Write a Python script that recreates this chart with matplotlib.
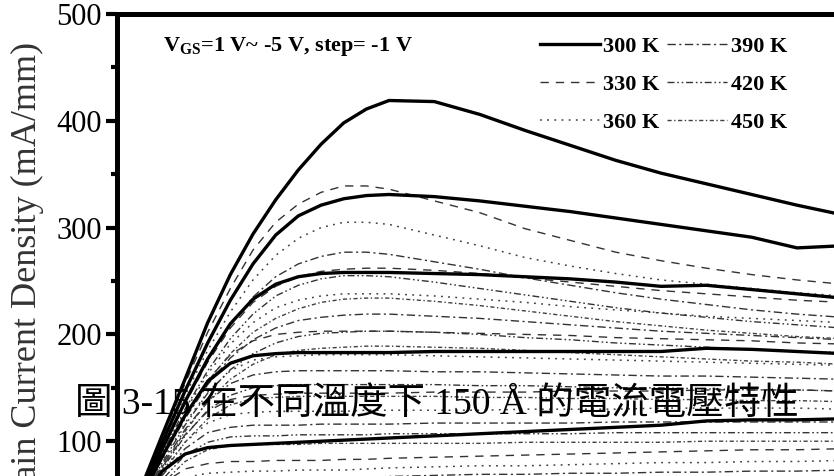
import matplotlib.pyplot as plt

plt.rcParams['font.family'] = ['Liberation Serif']
plt.rcParams['mathtext.fontset'] = 'custom'
plt.rcParams['mathtext.rm'] = 'Liberation Serif:bold'
plt.rcParams['mathtext.it'] = 'Liberation Serif:bold'
plt.rcParams['mathtext.bf'] = 'Liberation Serif:bold'

# drain voltage sweep (V)
vds = [0, 0.5, 1, 1.5, 2, 2.5, 3, 3.5, 4, 4.5, 5, 5.5, 6,
       7, 8, 9, 10, 11, 12, 13, 14, 15, 16]
vgs_steps = [1, 0, -1, -2, -3, -4, -5]
temps = ['300 K', '330 K', '360 K', '390 K', '420 K', '450 K']

# drain current density (mA/mm), one row per VGS step
j_300 = [
    [0, 53, 106, 158, 211, 256, 294, 326, 354, 378, 398, 411, 419, 418, 406, 391, 377, 363, 351, 341, 331, 321, 312],
    [0, 50, 99, 147, 192, 232, 266, 293, 311, 321, 327, 330, 331, 329, 325, 320, 315, 309, 303, 297, 291, 281, 283],
    [0, 47, 93, 137, 177, 210, 233, 247, 254, 257, 258, 258, 258, 257, 256, 254, 252, 249, 245, 246, 242, 238, 234],
    [0, 44, 86, 124, 156, 173, 180, 182, 183, 183, 183, 183, 183, 184, 184, 184, 184, 184, 184, 187, 186, 184, 182],
    [0, 40, 72, 88, 94, 96, 97, 98, 99, 100, 101, 102, 103, 105, 107, 109, 111, 113, 115, 119, 120, 120, 121],
    [0, 24, 33, 36, 38, 38, 39, 39, 39, 40, 40, 40, 40, 41, 41, 42, 42, 43, 43, 44, 44, 45, 45],
    [0, 3, 4, 4, 5, 5, 5, 5, 5, 5, 5, 5, 5, 5, 5, 6, 6, 6, 6, 6, 6, 6, 6],
]
j_330 = [
    [0, 52, 104, 154, 202, 243, 279, 305, 322, 333, 339, 339, 336, 325, 314, 299, 288, 277, 269, 262, 256, 251, 247],
    [0, 47, 92, 135, 174, 206, 230, 245, 254, 259, 261, 262, 262, 260, 257, 253, 249, 245, 241, 238, 235, 232, 230],
    [0, 44, 86, 124, 157, 181, 194, 200, 202, 203, 203, 203, 203, 202, 201, 200, 199, 197, 196, 195, 194, 192, 191],
    [0, 40, 76, 106, 128, 139, 143, 144, 145, 145, 145, 145, 145, 146, 146, 146, 147, 147, 147, 148, 148, 148, 147],
    [0, 35, 60, 74, 79, 81, 81, 82, 82, 82, 83, 83, 84, 85, 86, 87, 88, 89, 90, 91, 92, 92, 93],
    [0, 20, 28, 31, 33, 33, 34, 34, 34, 34, 34, 35, 35, 35, 35, 36, 36, 36, 36, 37, 37, 37, 37],
    [0, 3, 3, 4, 4, 4, 4, 4, 4, 4, 4, 4, 4, 4, 5, 5, 5, 5, 5, 5, 5, 5, 5],
]
j_360 = [
    [0, 49, 97, 143, 185, 221, 251, 274, 290, 300, 305, 305, 303, 293, 283, 272, 264, 257, 251, 247, 243, 239, 236],
    [0, 45, 88, 128, 163, 191, 211, 225, 232, 236, 238, 238, 238, 236, 233, 230, 226, 223, 220, 217, 215, 213, 211],
    [0, 42, 82, 117, 146, 166, 176, 179, 180, 181, 181, 181, 181, 180, 179, 178, 177, 176, 175, 174, 173, 172, 171],
    [0, 38, 72, 99, 117, 125, 127, 128, 128, 128, 128, 129, 129, 129, 129, 130, 130, 130, 131, 131, 131, 131, 130],
    [0, 33, 55, 66, 70, 71, 72, 72, 73, 73, 73, 74, 75, 76, 77, 77, 78, 79, 80, 80, 81, 81, 82],
    [0, 18, 25, 28, 29, 29, 30, 30, 30, 30, 30, 30, 31, 31, 31, 31, 32, 32, 32, 32, 32, 33, 33],
    [0, 2, 3, 3, 3, 3, 4, 4, 4, 4, 4, 4, 4, 4, 4, 4, 4, 4, 4, 4, 4, 4, 4],
]
j_390 = [
    [0, 47, 93, 137, 176, 209, 235, 254, 266, 273, 277, 277, 275, 268, 261, 253, 246, 239, 233, 228, 223, 219, 216],
    [0, 43, 84, 121, 153, 178, 195, 206, 213, 216, 218, 219, 219, 217, 215, 212, 209, 206, 203, 201, 199, 197, 195],
    [0, 40, 78, 111, 137, 154, 162, 165, 166, 166, 166, 166, 166, 165, 165, 164, 163, 162, 161, 161, 160, 159, 158],
    [0, 36, 68, 93, 108, 113, 115, 115, 115, 116, 116, 116, 116, 117, 117, 117, 117, 118, 118, 118, 118, 118, 118],
    [0, 31, 51, 60, 63, 64, 65, 65, 65, 66, 66, 66, 67, 68, 69, 69, 70, 70, 71, 71, 72, 72, 73],
    [0, 16, 22, 25, 26, 26, 26, 26, 27, 27, 27, 27, 27, 27, 28, 28, 28, 28, 28, 29, 29, 29, 29],
    [0, 2, 3, 3, 3, 3, 3, 3, 3, 3, 3, 3, 3, 3, 3, 3, 4, 4, 4, 4, 4, 4, 4],
]
j_420 = [
    [0, 45, 89, 130, 166, 196, 219, 236, 246, 252, 255, 255, 254, 249, 243, 237, 231, 225, 220, 216, 212, 209, 206],
    [0, 41, 80, 115, 145, 167, 182, 192, 198, 201, 202, 203, 203, 202, 200, 197, 195, 192, 190, 188, 186, 184, 183],
    [0, 38, 74, 105, 129, 143, 150, 152, 153, 153, 153, 153, 153, 153, 152, 152, 151, 150, 150, 149, 148, 148, 147],
    [0, 34, 64, 87, 99, 104, 105, 105, 106, 106, 106, 106, 107, 107, 107, 107, 107, 108, 108, 108, 108, 108, 108],
    [0, 29, 47, 55, 58, 58, 59, 59, 59, 60, 60, 60, 61, 62, 62, 62, 63, 63, 64, 64, 65, 65, 65],
    [0, 14, 19, 22, 22, 23, 23, 23, 23, 24, 24, 24, 24, 24, 25, 25, 25, 25, 25, 25, 25, 26, 26],
    [0, 2, 2, 3, 3, 3, 3, 3, 3, 3, 3, 3, 3, 3, 3, 3, 3, 3, 3, 3, 3, 3, 3],
]
j_450 = [
    [0, 43, 85, 123, 156, 182, 202, 215, 224, 230, 233, 234, 234, 231, 227, 222, 217, 212, 208, 204, 201, 198, 196],
    [0, 39, 76, 109, 137, 158, 172, 181, 185, 187, 188, 189, 189, 188, 187, 185, 183, 181, 179, 177, 175, 174, 172],
    [0, 36, 70, 99, 121, 134, 140, 141, 142, 142, 142, 142, 142, 142, 141, 141, 140, 140, 139, 139, 138, 138, 137],
    [0, 32, 60, 81, 92, 96, 97, 97, 97, 98, 98, 98, 98, 98, 98, 99, 99, 99, 99, 100, 100, 100, 100],
    [0, 27, 43, 50, 52, 53, 54, 54, 54, 55, 55, 55, 56, 56, 57, 57, 58, 58, 58, 59, 59, 59, 59],
    [0, 13, 18, 19, 20, 20, 21, 21, 21, 21, 21, 21, 22, 22, 22, 22, 22, 22, 22, 23, 23, 23, 23],
    [0, 2, 2, 2, 2, 2, 2, 2, 2, 2, 3, 3, 3, 3, 3, 3, 3, 3, 3, 3, 3, 3, 3],
]

families = [j_300, j_330, j_360, j_390, j_420, j_450]
styles = [
    ('-', 2.4, 'black'),
    ((0, (6, 5)), 1.0, '0.2'),
    ((0, (1.2, 3.5)), 1.1, '0.25'),
    ((0, (6, 2.5, 1.5, 2.5)), 1.0, '0.2'),
    ((0, (5, 2, 1.2, 2, 1.2, 2)), 1.0, '0.2'),
    ((0, (3, 1.8, 1, 1.8)), 1.0, '0.25'),
]

fig = plt.figure(figsize=(8.34, 4.76), dpi=100)
ax = fig.add_axes([0.1403, -0.1513, 0.8697, 1.1219])

for temp, curves, (ls, lw, col) in zip(temps, families, styles):
    for k, jd in enumerate(curves):
        ax.plot(vds, jd, linestyle=ls, lw=lw, color=col,
                label=temp if k == 0 else None,
                zorder=3 if temp == '300 K' else 2)

ax.set_xlim(0, 16)
ax.set_ylim(0, 500)
ax.set_yticks([100, 200, 300, 400, 500])
ax.set_yticks([50, 150, 250, 350, 450], minor=True)
ax.tick_params(axis='y', which='major', direction='out', length=8, width=3,
               labelsize=22, pad=3)
ax.tick_params(axis='y', which='minor', direction='out', length=4, width=3)
ax.tick_params(axis='x', bottom=False, labelbottom=False)
for side in ['left', 'top']:
    ax.spines[side].set_linewidth(3.6)
ax.spines['right'].set_visible(False)
ax.spines['bottom'].set_visible(False)

fig.text(27 / 834, 0.41, 'Drain Current Density (mA/mm)', rotation=90,
         ha='center', va='center', fontsize=26, color='0.2')

fig.text(163 / 834, 1 - 47 / 476, r'V$_{\mathrm{GS}}$=1 V~ -5 V, step= -1 V',
         fontsize=16, fontweight='bold', ha='left', va='center')

ax.legend(ncol=2, loc='upper left', bbox_to_anchor=(540 / 834, 1 - 36 / 476),
          bbox_transform=fig.transFigure, frameon=False, borderpad=0,
          borderaxespad=0, handlelength=2.7, handletextpad=0.15,
          columnspacing=0.35, labelspacing=0.8,
          prop={'family': 'Liberation Serif', 'weight': 'bold', 'size': 16})

fig.text(75 / 834, 1 - 405 / 476, '圖 3-15 在不同溫度下 150 Å 的電流電壓特性',
         family=['Liberation Serif', 'Noto Sans CJK TC'], fontsize=27,
         ha='left', va='center')

fig.savefig('out.png', dpi=100)
